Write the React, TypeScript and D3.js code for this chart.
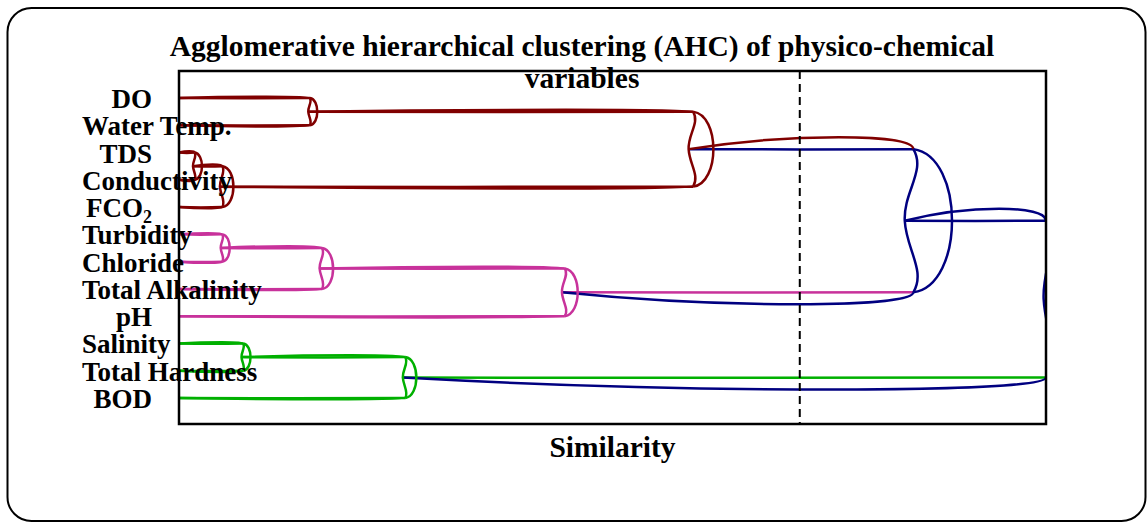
import React from "react";
import { select, scaleLinear, scalePoint } from "d3";

// leaves, top to bottom
const leaves = [
  "DO",
  "Water Temp.",
  "TDS",
  "Conductivity",
  "FCO2",
  "Turbidity",
  "Chloride",
  "Total Alkalinity",
  "pH",
  "Salinity",
  "Total Hardness",
  "BOD",
];

// merges, ids 12.. in this order (children refer to leaf index or merge id)
const mergeA = [2, 12, 5, 9, 0, 14, 15, 17, 16, 20, 21];
const mergeB = [3, 4, 6, 10, 1, 7, 11, 8, 13, 19, 18];
const mergeLevel = [0.018, 0.05, 0.05, 0.074, 0.151, 0.165, 0.261, 0.445, 0.593, 0.847, 1.0];

const cutLevel = 0.716;
const clusterRoots = [20, 19, 18];
const clusterColors = ["#800000", "#c8329b", "#00b000"];
const aboveCutColor = "#000080";

const title1 = "Agglomerative hierarchical clustering (AHC) of physico-chemical";
const title2 = "variables";
const xTitle = "Similarity";

const W = 1147;
const H = 523;
const margin = { top: 71, right: 101, bottom: 99, left: 179 };

interface Node {
  id: number;
  x: number;
  y: number;
  level: number;
  children: number[];
  parent: number | null;
  color: string;
}

export default function App() {
  const svgRef = React.useRef<SVGSVGElement>(null);

  React.useEffect(() => {
    document.body.style.margin = "0";
    const svg = select(svgRef.current);
    svg.selectAll("*").remove();

    const x0 = margin.left;
    const x1 = W - margin.right;
    const y0 = margin.top;
    const y1 = H - margin.bottom;

    const x = scaleLinear().domain([0, 1]).range([x0, x1]);
    const y = scalePoint<string>().domain(leaves).range([98, 398]);

    const n = leaves.length;
    const nodes: Node[] = leaves.map((l, i) => ({
      id: i,
      x: x(0),
      y: y(l) as number,
      level: 0,
      children: [],
      parent: null,
      color: "",
    }));
    mergeA.forEach((a, i) => {
      const b = mergeB[i];
      const id = n + i;
      nodes.push({
        id,
        x: x(mergeLevel[i]),
        y: (nodes[a].y + nodes[b].y) / 2,
        level: mergeLevel[i],
        children: [a, b],
        parent: null,
        color: "",
      });
      nodes[a].parent = id;
      nodes[b].parent = id;
    });

    // colours
    const paint = (id: number, c: string) => {
      nodes[id].color = c;
      nodes[id].children.forEach((ch) => paint(ch, c));
    };
    nodes.forEach((d) => {
      if (d.level > cutLevel) d.color = aboveCutColor;
    });
    clusterRoots.forEach((r, i) => paint(r, clusterColors[i]));

    const rootId = nodes.length - 1;
    const span = (d: Node) =>
      d.children.length ? Math.abs(nodes[d.children[1]].y - nodes[d.children[0]].y) : 0;
    const waveK = (d: Node) => (d.id === rootId ? 0.015 : 0.06);
    const nodePoint = (d: Node) =>
      d.children.length ? [d.x - waveK(d) * span(d), d.y] : [d.x, d.y];

    svg
      .append("defs")
      .append("clipPath")
      .attr("id", "plotClip")
      .append("rect")
      .attr("x", x0)
      .attr("y", y0)
      .attr("width", x1 - x0 + 1)
      .attr("height", y1 - y0);

    const g = svg.append("g").attr("clip-path", "url(#plotClip)");
    const sw = 2.5;

    // links from every node to its parent
    nodes.forEach((d) => {
      if (d.parent === null) return;
      const p = nodes[d.parent];
      const [sx, sy] = nodePoint(d);
      const ex = p.x;
      const ey = d.y;
      const dx = ex - sx;
      const isTop = d.y < p.y;
      const dir = isTop ? -1 : 1;
      const cross = p.level > cutLevel;
      const bow = (cross ? 12 : d.children.length ? 1.8 : 1.2) / 0.75;
      const straight = `M${sx},${sy}C${sx + 0.3 * dx},${sy + 0.4} ${ex - 0.3 * dx},${ey + 0.4} ${ex},${ey}`;
      const bowed = `M${sx},${sy}C${sx + 0.45 * dx},${sy + dir * bow} ${ex},${ey + dir * bow} ${ex},${ey}`;
      const bowedColor = isTop ? d.color : p.color;
      const straightColor = isTop ? p.color : d.color;
      g.append("path")
        .attr("d", straight)
        .attr("fill", "none")
        .attr("stroke", straightColor)
        .attr("stroke-width", sw);
      g.append("path")
        .attr("d", bowed)
        .attr("fill", "none")
        .attr("stroke", bowedColor)
        .attr("stroke-width", sw);
    });

    // lenses at merges
    nodes.forEach((d) => {
      if (!d.children.length) return;
      const ya = Math.min(nodes[d.children[0]].y, nodes[d.children[1]].y);
      const yb = Math.max(nodes[d.children[0]].y, nodes[d.children[1]].y);
      const s = yb - ya;
      const xm = d.x;
      const ym = (ya + yb) / 2;
      const k = waveK(d);
      const arc = `M${xm},${ya}C${xm + 0.36 * s},${ya + 0.05 * s} ${xm + 0.36 * s},${yb - 0.05 * s} ${xm},${yb}`;
      const wave =
        `M${xm},${ya}C${xm + 0.09 * s},${ya + 0.15 * s} ${xm - (k + 0.01) * s},${ym - 0.2 * s} ${xm - k * s},${ym}` +
        `C${xm - (k - 0.01) * s},${ym + 0.2 * s} ${xm + 0.09 * s},${yb - 0.15 * s} ${xm},${yb}`;
      [arc, wave].forEach((p) =>
        g
          .append("path")
          .attr("d", p)
          .attr("fill", "none")
          .attr("stroke", d.color)
          .attr("stroke-width", sw)
      );
    });

    // plot box
    svg
      .append("rect")
      .attr("x", x0)
      .attr("y", y0)
      .attr("width", x1 - x0)
      .attr("height", y1 - y0)
      .attr("fill", "none")
      .attr("stroke", "#000")
      .attr("stroke-width", 2.5);

    // truncation line
    svg
      .append("line")
      .attr("x1", x(cutLevel))
      .attr("x2", x(cutLevel))
      .attr("y1", y0)
      .attr("y2", y1)
      .attr("stroke", "#000")
      .attr("stroke-width", 2)
      .attr("stroke-dasharray", "8,5");

    const font = "'Liberation Serif', 'Times New Roman', serif";

    // leaf labels
    leaves.forEach((l) => {
      const t = svg
        .append("text")
        .attr("y", (y(l) as number) + 10)
        .attr("font-family", font)
        .attr("font-weight", "bold")
        .attr("font-size", 27)
        .attr("fill", "#000");
      if (l === "FCO2") {
        t.append("tspan").text("FCO");
        t.append("tspan").attr("font-size", 18).attr("dy", 6).text("2");
      } else {
        t.text(l);
      }
      const w = (t.node() as SVGTextElement).getComputedTextLength();
      t.attr("x", Math.max(82, 152 - w));
    });

    // titles
    const title = svg
      .append("text")
      .attr("text-anchor", "middle")
      .attr("font-family", font)
      .attr("font-weight", "bold")
      .attr("font-size", 29.5);
    title.append("tspan").attr("x", 582).attr("y", 56).text(title1);
    title.append("tspan").attr("x", 582).attr("y", 88).text(title2);

    svg
      .append("text")
      .attr("x", (x0 + x1) / 2)
      .attr("y", 457)
      .attr("text-anchor", "middle")
      .attr("font-family", font)
      .attr("font-weight", "bold")
      .attr("font-size", 29.5)
      .text(xTitle);

    // outer frame
    svg
      .append("rect")
      .attr("x", 7.5)
      .attr("y", 8)
      .attr("width", 1138)
      .attr("height", 513)
      .attr("rx", 24)
      .attr("fill", "none")
      .attr("stroke", "#000")
      .attr("stroke-width", 2);

    return () => {
      svg.selectAll("*").remove();
    };
  }, []);

  return <svg ref={svgRef} width={W} height={H} style={{ display: "block", background: "#fff" }} />;
}
